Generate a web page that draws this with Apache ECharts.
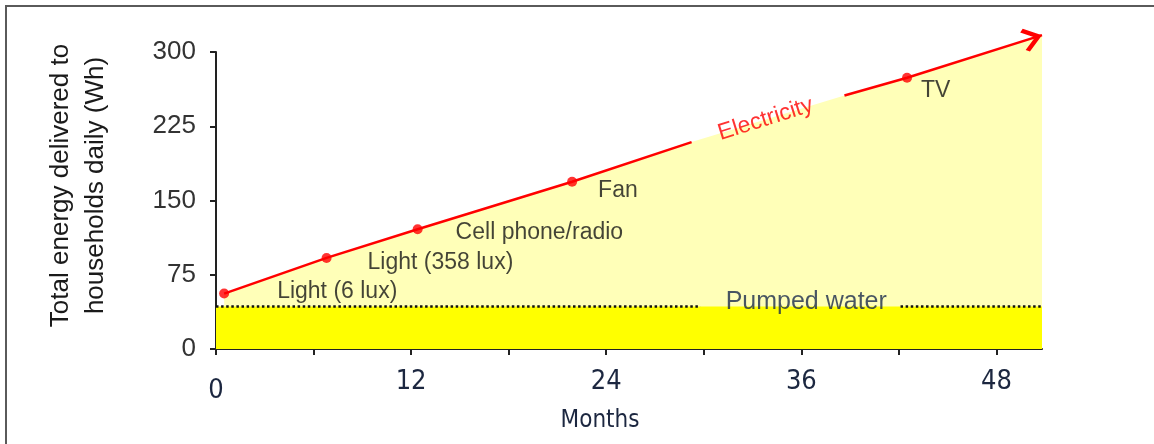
<!DOCTYPE html>
<html>
<head>
<meta charset="utf-8">
<script src="https://cdn.jsdelivr.net/npm/echarts@6/dist/echarts.min.js"></script>
<style>
	html, body { margin: 0; padding: 0; background: #fff; }
	#chart { width: 1154px; height: 444px; }
	.frame {
		position: absolute;
		left: 5px;
		top: 5px;
		right: 0;
		bottom: 0;
		border-top: 2px solid #5a5a5a;
		border-left: 2px solid #5a5a5a;
		pointer-events: none;
	}
</style>
</head>
<body>
<div id="chart"></div>
<div class="frame"></div>
<script>
// data
const eventNames = ['Light (6 lux)', 'Light (358 lux)', 'Cell phone/radio', 'Fan', 'TV']
const eventMonths = [0.5, 6.8, 12.4, 21.9, 42.5]
const eventWh = [56, 92, 121, 169, 274]
// the red line is broken where the "Electricity" label sits
const electricityGapStart = [29.25, 209]
const electricityGapEnd = [38.65, 256]
const electricityEnd = [50.8, 317]
const pumpedWaterWh = 43
const pumpedDotsBreak = [29.8, 42.1]
const xMax = 50.8
const xTickValues = [0, 6, 12, 18, 24, 30, 36, 42, 48]
const xLabelValues = [0, 12, 24, 36, 48]
const yMax = 300
const yInterval = 75
const notes = [
	{ text: 'Electricity', month: 33.8, wh: 232 },
	{ text: 'Pumped water', month: 36.3, wh: 47 },
]

// label placement, pixels from each dot
const labelOffsets = [[48, -2], [36, 5], [33, 3], [21, 9], [9, 13]]

const events = eventMonths.map((m, i) => [m, eventWh[i]])
const splitAt = eventMonths.findIndex(m => m > electricityGapStart[0])
const elecA = events.slice(0, splitAt).concat([electricityGapStart])
const elecB = [electricityGapEnd].concat(events.slice(splitAt), [electricityEnd])
const elecAll = elecA.concat(elecB)

const red = '#ff0000'
const textFont = '"Liberation Sans", Arial, sans-serif'
const narrowFont = '"Liberation Sans Narrow", "DejaVu Sans Condensed", sans-serif'
// open chevron pointing up, tip in the middle of its box
const chevron = 'path://M10,0 L20,11 L17.6,13.4 L10,5 L2.4,13.4 L0,11 Z M10,-13.4 L10.01,-13.4'

const chart = echarts.init(document.getElementById('chart'), null, { renderer: 'canvas' })

const option = {
	animation: false,
	backgroundColor: 'transparent',
	grid: { left: 216, right: 112, top: 52, bottom: 95 },
	xAxis: {
		type: 'value',
		min: 0,
		max: xMax,
		name: 'Months',
		nameLocation: 'middle',
		nameGap: 46,
		nameTextStyle: {
			fontFamily: narrowFont,
			fontSize: 24,
			color: '#1c2740',
			padding: [0, 58, 0, 0],
		},
		axisLine: { show: true, onZero: false, lineStyle: { color: '#222', width: 2 } },
		axisTick: { show: true, length: 6, customValues: xTickValues, lineStyle: { color: '#222', width: 2 } },
		axisLabel: {
			customValues: xLabelValues,
			margin: 19,
			fontFamily: narrowFont,
			fontSize: 27,
			color: '#1c2740',
			formatter: v => (v === 0 ? '{low|0}' : String(v)),
			rich: { low: { fontFamily: narrowFont, fontSize: 27, color: '#1c2740', padding: [9, 0, 0, 0] } },
		},
		splitLine: { show: false },
	},
	yAxis: {
		type: 'value',
		min: 0,
		max: yMax,
		interval: yInterval,
		name: 'Total energy delivered to\nhouseholds daily (Wh)',
		nameLocation: 'middle',
		nameRotate: 90,
		nameGap: 103,
		nameTextStyle: {
			fontFamily: textFont,
			fontSize: 26,
			lineHeight: 35,
			color: '#1a1a1a',
			padding: [0, 0, 0, 30],
		},
		axisLine: { show: true, lineStyle: { color: '#222', width: 2 } },
		axisTick: { show: true, length: 6, lineStyle: { color: '#222', width: 2 } },
		axisLabel: { margin: 20, fontFamily: textFont, fontSize: 26, color: '#333' },
		splitLine: { show: false },
	},
	series: [
		{
			// light yellow wedge under the electricity line
			type: 'line',
			data: elecAll,
			clip: false,
			symbol: 'none',
			lineStyle: { width: 0 },
			areaStyle: { color: '#ffffb8', opacity: 1 },
			z: 1,
		},
		{
			// pumped water band
			type: 'line',
			data: [[0, pumpedWaterWh], [xMax, pumpedWaterWh]],
			symbol: 'none',
			lineStyle: { width: 0 },
			areaStyle: { color: '#ffff00', opacity: 1 },
			z: 2,
		},
		{
			type: 'line',
			data: [[0, pumpedWaterWh], [pumpedDotsBreak[0], pumpedWaterWh]],
			symbol: 'none',
			lineStyle: { color: '#111', width: 2.5, type: [2.5, 2.6] },
			z: 3,
		},
		{
			type: 'line',
			data: [[pumpedDotsBreak[1], pumpedWaterWh], [xMax, pumpedWaterWh]],
			symbol: 'none',
			lineStyle: { color: '#111', width: 2.5, type: [2.5, 2.6] },
			z: 3,
		},
		{
			type: 'line',
			data: elecA,
			clip: false,
			symbol: 'none',
			lineStyle: { color: red, width: 2.5 },
			z: 4,
		},
		{
			type: 'line',
			data: elecB,
			clip: false,
			showSymbol: true,
			showAllSymbol: true,
			symbol: (v, p) => (p.dataIndex === elecB.length - 1 ? chevron : 'none'),
			symbolSize: [24, 40],
			itemStyle: { color: red },
			lineStyle: { color: red, width: 2.5 },
			z: 4,
		},
		{
			type: 'scatter',
			data: events.map((p, i) => ({
				value: p,
				name: eventNames[i],
				label: { offset: labelOffsets[i] },
			})),
			symbolSize: 10,
			itemStyle: { color: red },
			clip: false,
			z: 5,
			label: {
				show: true,
				position: 'right',
				distance: 0,
				formatter: p => p.name,
				fontFamily: textFont,
				fontSize: 23,
				color: '#151515',
			},
		},
		{
			type: 'scatter',
			data: notes.map(n => ({ value: [n.month, n.wh], name: n.text })),
			symbolSize: 1,
			itemStyle: { color: 'transparent' },
			z: 5,
			label: {
				show: true,
				position: 'inside',
				formatter: p => p.name,
				fontFamily: textFont,
				fontSize: 23,
			},
			labelLayout: { hideOverlap: false },
		},
	],
}

// per-note text style
option.series[7].data[0].label = { rotate: 17.4, color: red }
option.series[7].data[1].label = { color: '#1a2a4c', fontSize: 25 }

chart.setOption(option)

// point the arrow head along the last segment, using the chart's own scales
const a = chart.convertToPixel({ gridIndex: 0 }, elecB[elecB.length - 2])
const b = chart.convertToPixel({ gridIndex: 0 }, elecB[elecB.length - 1])
const angle = Math.atan2(a[1] - b[1], b[0] - a[0]) * 180 / Math.PI
chart.setOption({ series: [{}, {}, {}, {}, {}, { symbolRotate: angle - 90 }] })
</script>
</body>
</html>
